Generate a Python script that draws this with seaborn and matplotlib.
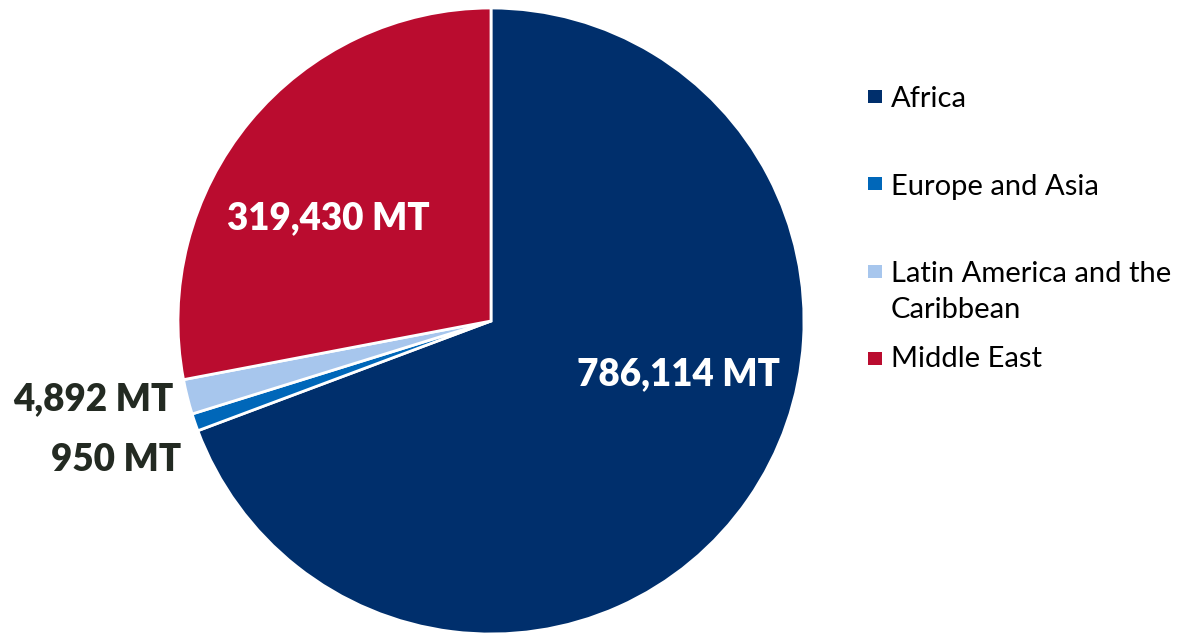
import matplotlib
matplotlib.use("Agg")
import matplotlib.pyplot as plt
import seaborn as sns
from matplotlib.patches import Rectangle

regions = ["Africa", "Europe and Asia", "Latin America and the\nCaribbean", "Middle East"]
# slice shares (%) as drawn in the picture
shares = [69.3, 0.9, 1.8, 28.0]
value_labels = ["786,114 MT", "950 MT", "4,892 MT", "319,430 MT"]
colors = ["#002F6C", "#0067B9", "#A7C6ED", "#BA0C2F"]

sns.set_theme(style="white")
plt.rcParams["font.family"] = ["Lato", "DejaVu Sans"]
palette = sns.color_palette(colors)

fig = plt.figure(figsize=(11.85, 6.35), dpi=100)
ax = fig.add_axes([178 / 1185, 1 / 635, 626 / 1185, 626 / 635])
ax.pie(shares, colors=palette, startangle=90, counterclock=False, radius=1.0,
       wedgeprops=dict(edgecolor="white", linewidth=2))
ax.set_xlim(-1, 1)
ax.set_ylim(-1, 1)
ax.set_aspect("equal")
ax.axis("off")

lab_kw = dict(fontsize=26.5, fontweight="heavy", va="center")
ax.text(0.60, -0.17, value_labels[0], color="white", ha="center", **lab_kw)
ax.text(-0.52, 0.33, value_labels[3], color="white", ha="center", **lab_kw)
ax.text(-1.015, -0.25, value_labels[2], color="#232A22", ha="right", **lab_kw)
ax.text(-0.99, -0.445, value_labels[1], color="#232A22", ha="right", **lab_kw)

# legend (manual)
W, H = 1185, 635
square_top = [90, 177, 265, 352]
baselines = [107, 195, 282, 367]
line_gap = 36
for name, col, top, base in zip(regions, palette, square_top, baselines):
    fig.patches.append(Rectangle((868 / W, 1 - (top + 13) / H), 14 / W, 13 / H,
                                 transform=fig.transFigure, facecolor=col,
                                 edgecolor="none"))
    for i, line in enumerate(name.split("\n")):
        fig.text(891 / W, 1 - (base + i * line_gap) / H, line, fontsize=21,
                 color="black", ha="left", va="baseline")

fig.savefig("out.png", dpi=100, facecolor="white")
